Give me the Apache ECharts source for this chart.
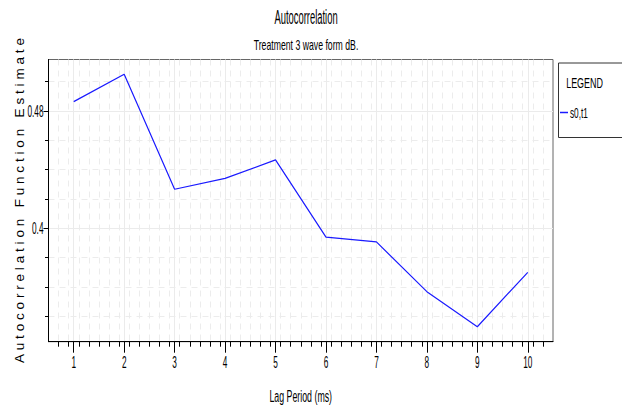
<!DOCTYPE html>
<html>
<head>
<meta charset="utf-8">
<script src="https://cdn.jsdelivr.net/npm/echarts@6/dist/echarts.min.js"></script>
<style>
  html, body { margin: 0; padding: 0; background: #fff; }
  #chart { width: 622px; height: 408px; }
</style>
</head>
<body>
<div id="chart"></div>
<script>
// Lag periods (ms) and autocorrelation estimates for series s0,t1
const lags = [1, 2, 3, 4, 5, 6, 7, 8, 9, 10];
const acf = [0.4863, 0.5050, 0.4266, 0.4340, 0.4466, 0.3940, 0.3907, 0.3568, 0.3329, 0.3700];

const xLabels = [1, 2, 3, 4, 5, 6, 7, 8, 9, 10];
const yLabels = [0.4, 0.48];

const seriesName = 's0,t1';
const chartTitle = 'Autocorrelation';
const chartSubtitle = 'Treatment 3 wave form dB.';
const legendTitle = 'LEGEND';
const xName = 'Lag Period (ms)';
const yName = 'Autocorrelation Function Estimate';

const X_MIN = 0.5, X_MAX = 10.5;
const Y_MIN = 0.3227, Y_MAX = 0.515;

// minor tick positions: every 0.2 on x, every 0.02 on y
const xMinor = [];
for (let i = 1; i < 50; i++) {
  const v = +(X_MIN + i * 0.2).toFixed(2);
  if (Math.abs(v - Math.round(v)) > 1e-6) xMinor.push(v);
}
const yMinor = [];
for (let v = 0.34; v < Y_MAX; v = +(v + 0.02).toFixed(2)) {
  if (yLabels.indexOf(v) < 0) yMinor.push(v);
}

const sans = "'Liberation Sans', Arial, sans-serif";

const chart = echarts.init(document.getElementById('chart'), null, { renderer: 'svg' });

chart.setOption({
  animation: false,
  backgroundColor: '#fff',
  title: [
    { text: chartTitle, left: 301, top: 2, textAlign: 'center',
      textStyle: { fontFamily: sans, fontWeight: 'normal', fontSize: 20, color: '#000' } },
    { text: chartSubtitle, left: 301, top: 32, textAlign: 'center',
      textStyle: { fontFamily: sans, fontWeight: 'normal', fontSize: 15, color: '#000' } }
  ],
  grid: {
    left: 48.5, right: 69, top: 59.5, bottom: 66.3,
    outerBoundsMode: 'none', containLabel: false,
    show: true, borderColor: '#666', borderWidth: 1, backgroundColor: '#fff'
  },
  legend: {
    data: [seriesName],
    left: 555, top: 100,
    orient: 'vertical',
    itemWidth: 8, itemHeight: 1.5, itemGap: 4,
    icon: 'rect',
    textStyle: { fontFamily: sans, fontSize: 15, color: '#000', padding: [0, 0, 0, -3] }
  },
  graphic: [
    { type: 'rect', left: 556, top: 60.5, shape: { width: 65, height: 74.5 },
      style: { fill: 'none', stroke: '#333', lineWidth: 1 }, z: 10 },
    { type: 'text', x: 603, y: 76,
      style: { text: legendTitle, font: '14px ' + sans, fill: '#000', align: 'right', verticalAlign: 'top' }, z: 10 }
  ],
  xAxis: [
    {
      type: 'value', min: X_MIN, max: X_MAX, position: 'bottom',
      name: xName, nameLocation: 'middle', nameGap: 47, nameMoveOverlap: false,
      nameTextStyle: { fontFamily: sans, fontSize: 16, color: '#000' },
      axisLine: { show: true, onZero: false, lineStyle: { color: '#000', width: 1 } },
      axisTick: { show: true, customValues: xLabels, length: 11, lineStyle: { color: '#000' } },
      axisLabel: { customValues: xLabels, margin: 12, fontFamily: sans, fontSize: 16.5, color: '#000' },
      splitLine: { show: true, lineStyle: { color: '#ebebeb', width: 1 } }
    },
    {
      type: 'value', min: X_MIN, max: X_MAX, position: 'bottom', offset: 0,
      axisLine: { show: false },
      axisTick: { show: true, customValues: xMinor, length: 5, lineStyle: { color: '#000' } },
      axisLabel: { show: false },
      splitLine: { show: true, lineStyle: { color: '#ececec', width: 1, type: [6, 5] } }
    }
  ],
  yAxis: [
    {
      type: 'value', min: Y_MIN, max: Y_MAX, position: 'left',
      name: yName, nameLocation: 'middle', nameGap: 22, nameRotate: 90, nameMoveOverlap: false,
      nameTextStyle: { fontFamily: sans, fontSize: 13.5, color: '#000' },
      axisLine: { show: true, onZero: false, lineStyle: { color: '#000', width: 1 } },
      axisTick: { show: true, customValues: yLabels, length: 5, lineStyle: { color: '#000' } },
      axisLabel: { customValues: yLabels, margin: 5, fontFamily: sans, fontSize: 16.5, color: '#000' },
      splitLine: { show: true, lineStyle: { color: '#ebebeb', width: 1 } }
    },
    {
      type: 'value', min: Y_MIN, max: Y_MAX, position: 'left', offset: 0,
      axisLine: { show: false },
      axisTick: { show: true, customValues: yMinor, length: 3.5, lineStyle: { color: '#000' } },
      axisLabel: { show: false },
      splitLine: { show: true, lineStyle: { color: '#ececec', width: 1, type: [6, 5] } }
    }
  ],
  series: [
    {
      name: seriesName,
      type: 'line',
      xAxisIndex: 0, yAxisIndex: 0,
      data: lags.map((x, i) => [x, acf[i]]),
      showSymbol: false,
      symbol: 'none',
      lineStyle: { color: '#1a1aff', width: 1.2 },
      itemStyle: { color: '#1a1aff' },
      z: 5
    }
  ]
});

// Typeset: condensed lettering for most text, letter-spaced y-axis title.
const condense = {};
condense[chartTitle] = 0.47;
condense[chartSubtitle] = 0.58;
condense[xName] = 0.55;
condense[legendTitle] = 0.64;
condense[seriesName] = 0.55;

function typeset() {
  const texts = document.querySelectorAll('#chart svg text');
  texts.forEach(function (t) {
    const s = t.textContent;
    if (s === yName) {
      t.setAttribute('textLength', 325);
      t.setAttribute('lengthAdjust', 'spacing');
      return;
    }
    let natural = parseFloat(t.getAttribute('data-natural'));
    if (!natural) {
      natural = t.getComputedTextLength();
      if (!natural) return;
      t.setAttribute('data-natural', natural);
    }
    const f = condense[s] !== undefined ? condense[s] : 0.5;
    t.setAttribute('textLength', (natural * f).toFixed(2));
    t.setAttribute('lengthAdjust', 'spacingAndGlyphs');
  });
}
chart.on('finished', typeset);
setTimeout(typeset, 50);
</script>
</body>
</html>
